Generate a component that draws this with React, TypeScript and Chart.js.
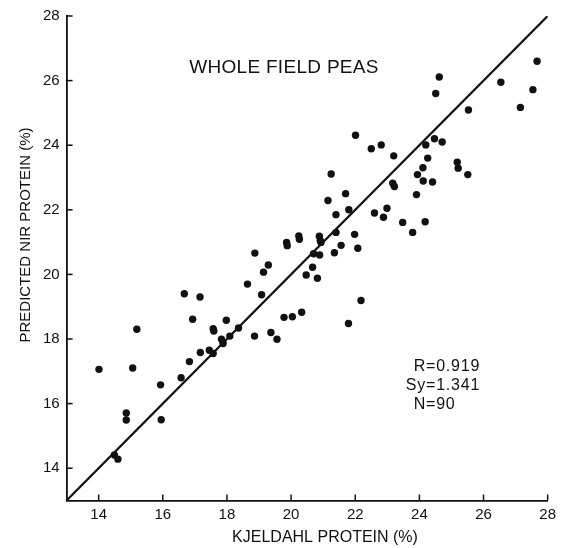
import React, { useEffect, useRef } from "react";
import { Chart, registerables } from "chart.js";

Chart.register(...registerables);

const KJELDAHL = [
  14.01, 15.06, 15.19, 14.86, 14.86, 14.49, 14.6, 15.93, 15.95, 16.57,
  16.83, 17.17, 16.93, 16.67, 17.16, 17.57, 17.59, 17.45, 17.57, 17.98,
  17.83, 17.88, 18.09, 18.36, 18.64, 19.08, 18.87, 19.14, 19.29, 18.86,
  19.37, 19.56, 19.78, 20.04, 20.33, 19.86, 19.88, 20.24, 20.26, 20.47,
  20.67, 20.82, 20.7, 20.89, 20.88, 20.93, 21.35, 21.4, 22.01, 22.5,
  22.81, 23.2, 21.25, 21.7, 21.15, 21.4, 21.8, 23.17, 23.22, 22.6,
  22.99, 22.88, 23.48, 23.79, 24.18, 23.91, 23.94, 24.12, 24.11, 24.26,
  24.2, 24.41, 24.47, 24.71, 21.98, 22.08, 21.56, 22.18, 21.79, 24.62,
  24.51, 25.53, 26.54, 27.67, 27.54, 27.15, 25.18, 25.21, 25.51, 20.91,
];
const PREDICTED = [
  17.06, 17.1, 18.3, 15.71, 15.49, 14.41, 14.28, 16.58, 15.5, 16.8,
  17.3, 17.58, 18.61, 19.4, 19.3, 18.32, 18.25, 17.65, 17.55, 18.58,
  17.99, 17.86, 18.09, 18.34, 19.7, 19.37, 20.66, 20.07, 20.29, 18.09,
  18.2, 17.99, 18.67, 18.69, 18.83, 20.99, 20.89, 21.19, 21.09, 19.98,
  20.22, 19.88, 20.64, 20.6, 21.18, 20.99, 20.67, 21.3, 24.31, 23.89,
  24.01, 23.67, 23.11, 22.5, 22.29, 21.85, 22.0, 22.82, 22.72, 21.9,
  22.05, 21.77, 21.61, 21.3, 21.63, 22.47, 23.09, 22.89, 23.3, 23.6,
  24.01, 22.86, 24.2, 24.1, 21.24, 20.81, 20.9, 19.19, 18.48, 26.11,
  25.6, 25.09, 25.95, 26.6, 25.72, 25.17, 23.47, 23.29, 23.09, 21.05,
];
const LINE_X = [13, 28];
const LINE_Y = [13, 28];
const TICKS = [14, 16, 18, 20, 22, 24, 26, 28];
const AXIS_MIN = 13;
const AXIS_MAX = 28;
const CHART_TITLE = "WHOLE FIELD PEAS";
const X_TITLE = "KJELDAHL PROTEIN (%)";
const Y_TITLE = "PREDICTED NIR PROTEIN (%)";
const STATS = ["R=0.919", "Sy=1.341", "N=90"];

const FONT = "'Liberation Sans', Arial, Helvetica, sans-serif";

const decorPlugin = {
  id: "decor",
  afterDraw(chart: any) {
    const ctx = chart.ctx as CanvasRenderingContext2D;
    const xs = chart.scales.x;
    const ys = chart.scales.y;
    ctx.save();
    ctx.strokeStyle = "#111";
    ctx.lineWidth = 1.5;
    const bottom = ys.getPixelForValue(AXIS_MIN);
    const left = xs.getPixelForValue(AXIS_MIN);
    TICKS.forEach((t) => {
      const px = xs.getPixelForValue(t);
      ctx.beginPath();
      ctx.moveTo(px, bottom);
      ctx.lineTo(px, bottom - 6);
      ctx.stroke();
      const py = ys.getPixelForValue(t);
      ctx.beginPath();
      ctx.moveTo(left, py);
      ctx.lineTo(left + 6, py);
      ctx.stroke();
    });
    ctx.fillStyle = "#111";
    ctx.font = `19px ${FONT}`;
    ctx.textAlign = "center";
    ctx.textBaseline = "middle";
    (ctx as any).letterSpacing = "0.3px";
    ctx.fillText(CHART_TITLE, 284, 68);
    (ctx as any).letterSpacing = "0px";
    ctx.font = `16px ${FONT}`;
    ctx.fillText(X_TITLE, 325, 538);
    ctx.save();
    ctx.translate(26, 235);
    ctx.rotate(-Math.PI / 2);
    ctx.font = `15px ${FONT}`;
    ctx.fillText(Y_TITLE, 0, 0);
    ctx.restore();
    ctx.font = `16px ${FONT}`;
    (ctx as any).letterSpacing = "0.8px";
    STATS.forEach((s, i) => {
      const [a, b] = s.split("=");
      const y = 367 + i * 19;
      ctx.textAlign = "right";
      ctx.fillText(a, 426, y);
      ctx.textAlign = "left";
      ctx.fillText("=" + b, 426, y);
    });
    ctx.restore();
  },
};

export default function App() {
  const ref = useRef<HTMLCanvasElement | null>(null);
  useEffect(() => {
    document.body.style.margin = "0";
    const canvas = ref.current;
    if (!canvas) return;
    const points = KJELDAHL.map((x, i) => ({ x, y: PREDICTED[i] }));
    const line = LINE_X.map((x, i) => ({ x, y: LINE_Y[i] }));
    const setTicks = (scale: any) => {
      scale.ticks = TICKS.map((v) => ({ value: v }));
    };
    const chart = new Chart(canvas, {
      type: "scatter",
      data: {
        datasets: [
          {
            type: "line",
            data: line,
            borderColor: "#111",
            borderWidth: 2.2,
            pointRadius: 0,
            fill: false,
          } as any,
          {
            data: points,
            backgroundColor: "#111",
            borderColor: "#111",
            pointRadius: 3.7,
            borderWidth: 0,
          },
        ],
      },
      options: {
        animation: false,
        responsive: false,
        maintainAspectRatio: false,
        layout: { padding: { left: 0, right: 7.7, top: 15, bottom: 0 } },
        plugins: {
          legend: { display: false },
          tooltip: { enabled: false },
          title: { display: false },
        },
        scales: {
          x: {
            type: "linear",
            min: AXIS_MIN,
            max: AXIS_MAX,
            afterBuildTicks: setTicks,
            afterFit: (s: any) => {
              s.height = 47.5;
            },
            grid: { drawOnChartArea: false, drawTicks: false },
            border: { display: true, color: "#111", width: 1.8 },
            ticks: {
              color: "#111",
              padding: 5,
              font: { family: FONT, size: 15 },
              maxRotation: 0,
            },
          },
          y: {
            type: "linear",
            min: AXIS_MIN,
            max: AXIS_MAX,
            afterBuildTicks: setTicks,
            afterFit: (s: any) => {
              s.width = 66.6;
            },
            grid: { drawOnChartArea: false, drawTicks: false },
            border: { display: true, color: "#111", width: 1.8 },
            ticks: {
              color: "#111",
              padding: 7,
              font: { family: FONT, size: 15 },
            },
          },
        },
      },
      plugins: [decorPlugin],
    });
    return () => chart.destroy();
  }, []);
  return (
    <div style={{ width: 561, height: 548, background: "#fff" }}>
      <canvas ref={ref} width={561} height={548} style={{ display: "block" }} />
    </div>
  );
}
